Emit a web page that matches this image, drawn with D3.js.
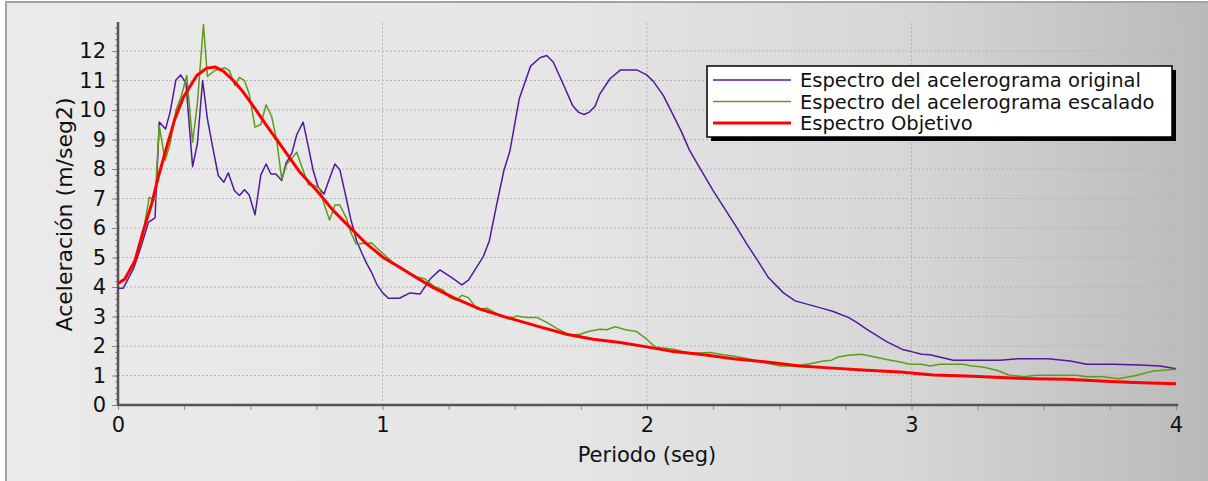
<!DOCTYPE html>
<html>
<head>
<meta charset="utf-8">
<script src="https://cdn.jsdelivr.net/npm/d3@7"></script>
<style>
  body { margin: 0; background: #fff; }
  svg { display: block; font-family: "DejaVu Sans", Verdana, sans-serif; }
</style>
</head>
<body>
<svg id="chart" width="1208" height="481"></svg>
<script>
// periodo (seg), aceleracion (m/seg2)
var original = [
  [0,3.96],[0.02,3.96],[0.06,4.65],[0.09,5.45],[0.115,6.19],[0.14,6.34],[0.156,9.59],[0.18,9.36],
  [0.197,9.93],[0.219,11.02],[0.237,11.19],[0.257,10.91],[0.282,8.08],[0.30,8.85],[0.32,11.0],
  [0.338,9.7],[0.358,8.74],[0.379,7.78],[0.40,7.55],[0.417,7.87],[0.44,7.27],[0.459,7.10],
  [0.478,7.30],[0.496,7.12],[0.518,6.45],[0.54,7.80],[0.56,8.17],[0.578,7.83],[0.597,7.83],
  [0.619,7.61],[0.635,8.19],[0.657,8.53],[0.676,9.17],[0.70,9.59],[0.72,8.74],[0.738,7.95],
  [0.757,7.38],[0.779,7.15],[0.799,7.66],[0.82,8.17],[0.839,7.97],[0.858,7.21],[0.88,6.30],
  [0.902,5.57],[0.921,5.17],[0.94,4.80],[0.959,4.49],[0.978,4.10],[1.0,3.81],[1.022,3.62],
  [1.064,3.62],[1.104,3.80],[1.142,3.76],[1.18,4.27],[1.217,4.58],[1.262,4.32],[1.30,4.07],
  [1.325,4.23],[1.381,5.03],[1.404,5.57],[1.432,6.81],[1.459,7.95],[1.482,8.62],[1.517,10.38],
  [1.56,11.49],[1.595,11.77],[1.621,11.85],[1.646,11.62],[1.677,11.0],[1.719,10.15],[1.74,9.93],
  [1.762,9.85],[1.782,9.93],[1.803,10.12],[1.822,10.55],[1.86,11.06],[1.90,11.36],[1.961,11.36],
  [1.999,11.19],[2.024,10.97],[2.062,10.49],[2.10,9.81],[2.131,9.25],[2.16,8.65],[2.194,8.12],
  [2.25,7.27],[2.339,6.02],[2.377,5.46],[2.421,4.86],[2.459,4.32],[2.515,3.81],
  [2.56,3.53],[2.629,3.36],[2.673,3.25],[2.704,3.17],[2.761,2.97],[2.793,2.80],[2.83,2.57],
  [2.906,2.15],[2.969,1.87],[3.0,1.81],[3.038,1.72],[3.07,1.70],[3.158,1.52],[3.335,1.52],
  [3.404,1.57],[3.517,1.57],[3.60,1.49],[3.662,1.38],[3.763,1.38],[3.864,1.36],[3.94,1.32],[4.0,1.23]
];

var escalado = [
  [0,4.15],[0.02,4.2],[0.058,4.72],[0.09,5.57],[0.118,7.04],[0.14,6.93],[0.156,9.47],[0.178,8.29],
  [0.197,8.85],[0.219,9.98],[0.24,10.49],[0.26,11.17],[0.282,8.91],[0.30,10.21],[0.323,12.9],
  [0.338,11.14],[0.366,11.34],[0.404,11.43],[0.421,11.34],[0.442,10.83],[0.459,11.11],[0.478,11.0],
  [0.496,10.55],[0.518,9.42],[0.54,9.51],[0.56,10.18],[0.581,9.78],[0.60,8.96],[0.619,7.66],
  [0.638,8.17],[0.657,8.36],[0.676,8.57],[0.698,8.00],[0.72,7.47],[0.745,7.44],[0.764,7.32],
  [0.779,6.81],[0.80,6.27],[0.82,6.78],[0.839,6.78],[0.865,6.30],[0.88,5.85],[0.90,5.46],
  [0.934,5.48],[0.959,5.49],[0.99,5.23],[1.04,4.83],[1.09,4.55],[1.129,4.35],[1.161,4.27],
  [1.192,4.04],[1.23,3.89],[1.255,3.64],[1.28,3.55],[1.30,3.72],[1.325,3.64],[1.358,3.25],
  [1.394,3.28],[1.425,3.13],[1.457,2.97],[1.495,2.97],[1.507,3.02],[1.545,2.97],[1.583,2.97],
  [1.621,2.80],[1.659,2.60],[1.709,2.37],[1.747,2.40],[1.778,2.49],[1.822,2.57],[1.848,2.55],
  [1.879,2.65],[1.923,2.54],[1.961,2.49],[1.999,2.23],[2.03,1.97],[2.10,1.89],[2.163,1.75],
  [2.238,1.78],[2.289,1.70],[2.326,1.66],[2.39,1.55],[2.503,1.32],[2.56,1.32],[2.616,1.40],
  [2.667,1.49],[2.698,1.52],[2.723,1.63],[2.761,1.69],[2.812,1.72],[2.862,1.63],[2.906,1.54],
  [2.957,1.46],[2.994,1.38],[3.038,1.38],[3.07,1.32],[3.108,1.38],[3.196,1.38],[3.227,1.32],
  [3.27,1.29],[3.322,1.18],[3.372,1.01],[3.423,0.96],[3.473,1.01],[3.624,1.01],[3.662,0.96],
  [3.725,0.96],[3.782,0.89],[3.84,0.98],[3.915,1.15],[4.0,1.21]
];

var objetivo = [
  [0,4.12],[0.026,4.27],[0.064,4.89],[0.096,5.91],[0.127,6.81],[0.152,7.72],[0.184,8.74],
  [0.215,9.70],[0.247,10.43],[0.298,11.17],[0.335,11.42],[0.367,11.46],[0.398,11.32],[0.436,11.0],
  [0.474,10.6],[0.512,10.12],[0.562,9.47],[0.625,8.68],[0.688,7.89],[0.751,7.27],[0.814,6.59],
  [0.877,6.02],[0.94,5.46],[1.003,5.0],[1.066,4.66],[1.116,4.38],[1.192,3.98],[1.268,3.64],
  [1.369,3.25],[1.469,2.97],[1.595,2.65],[1.696,2.40],[1.797,2.23],[1.898,2.12],[1.999,1.97],
  [2.10,1.81],[2.20,1.72],[2.326,1.57],[2.452,1.46],[2.578,1.32],[2.704,1.25],[2.83,1.18],
  [2.957,1.12],[3.082,1.02],[3.209,0.98],[3.335,0.93],[3.46,0.89],[3.587,0.87],[3.713,0.81],
  [3.84,0.76],[4.0,0.72]
];

var seriesNames = ["Espectro del acelerograma original", "Espectro del acelerograma escalado", "Espectro Objetivo"];
var seriesColors = ["#5317a0", "#5f9c16", "#ff0000"];
var seriesWidths = [1.5, 1.5, 3];
var xTicks = [0, 1, 2, 3, 4];
var yTicks = [0, 1, 2, 3, 4, 5, 6, 7, 8, 9, 10, 11, 12];

var svg = d3.select("#chart");
var W = +svg.attr("width"), H = +svg.attr("height");
var margin = {top: 23, right: 32, bottom: 76, left: 118};
var width = W - margin.left - margin.right;
var height = H - margin.top - margin.bottom;

// background panel
var defs = svg.append("defs");
var grad = defs.append("linearGradient").attr("id", "bg").attr("x1", 0).attr("x2", 1).attr("y1", 0).attr("y2", 0);
grad.append("stop").attr("offset", "0%").attr("stop-color", "#eaeaea");
grad.append("stop").attr("offset", "45%").attr("stop-color", "#e6e6e6");
grad.append("stop").attr("offset", "75%").attr("stop-color", "#d6d6d6");
grad.append("stop").attr("offset", "100%").attr("stop-color", "#b9b9b9");
svg.append("rect").attr("x", 6).attr("y", 2).attr("width", W).attr("height", H)
  .attr("fill", "url(#bg)").attr("stroke", "#a3a3a3").attr("stroke-width", 2);

var x = d3.scaleLinear().domain([0, 4]).range([0, width]);
var y = d3.scaleLinear().domain([0, 12.95]).range([height, 0]);

var g = svg.append("g").attr("transform", "translate(" + margin.left + "," + margin.top + ")");

// grid
g.append("g").selectAll("line").data(yTicks.slice(1)).enter().append("line")
  .attr("x1", 0).attr("x2", width).attr("y1", function(d){ return y(d); }).attr("y2", function(d){ return y(d); })
  .attr("stroke", "#b4b4b4").attr("stroke-dasharray", "2,2");
g.append("g").selectAll("line").data(xTicks.slice(1)).enter().append("line")
  .attr("y1", 0).attr("y2", height).attr("x1", function(d){ return x(d); }).attr("x2", function(d){ return x(d); })
  .attr("stroke", "#b4b4b4").attr("stroke-dasharray", "2,2");

// axes
var xMinor = d3.range(0, 4.001, 0.25);
var yMinor = d3.range(0, 12.95, 0.2);
var xAxisG = g.append("g").attr("transform", "translate(0," + height + ")");
xAxisG.call(d3.axisBottom(x).tickValues(xMinor).tickSize(5).tickFormat(""));
xAxisG.call(function(a){ a.select(".domain").remove(); });
xAxisG.selectAll("line").attr("stroke", "#888");
var xLab = g.append("g").attr("transform", "translate(0," + height + ")")
  .call(d3.axisBottom(x).tickValues(xTicks).tickSize(0).tickPadding(12).tickFormat(d3.format("d")));
xLab.select(".domain").remove();
xLab.selectAll("text").attr("font-size", 21).attr("fill", "#111").attr("font-family", "DejaVu Sans");

var yAxisG = g.append("g");
yAxisG.call(d3.axisLeft(y).tickValues(yMinor).tickSize(3).tickFormat(""));
yAxisG.select(".domain").remove();
yAxisG.selectAll("line").attr("stroke", "#888");
var yLab = g.append("g")
  .call(d3.axisLeft(y).tickValues(yTicks).tickSize(6).tickPadding(6).tickFormat(d3.format("d")));
yLab.select(".domain").remove();
yLab.selectAll("line").attr("stroke", "#888");
yLab.selectAll("text").attr("font-size", 21).attr("fill", "#111").attr("font-family", "DejaVu Sans");

g.append("line").attr("x1", 0).attr("x2", width + 2).attr("y1", height).attr("y2", height)
  .attr("stroke", "#555").attr("stroke-width", 2.5);
g.append("line").attr("x1", 0).attr("x2", 0).attr("y1", -1).attr("y2", height + 1)
  .attr("stroke", "#555").attr("stroke-width", 2.5);

// titles
svg.append("text").attr("x", margin.left + x(2)).attr("y", 462).attr("text-anchor", "middle")
  .attr("font-size", 21).attr("fill", "#111").text("Periodo (seg)");
svg.append("text").attr("transform", "translate(72,214.5) rotate(-90)")
  .attr("text-anchor", "middle").attr("font-size", 22).attr("fill", "#111").text("Aceleración (m/seg2)");

// lines
var line = d3.line().x(function(d){ return x(d[0]); }).y(function(d){ return y(d[1]); });
var allSeries = [original, escalado, objetivo];
g.append("g").selectAll("path").data(allSeries).enter().append("path")
  .attr("d", line).attr("fill", "none")
  .attr("stroke", function(d, i){ return seriesColors[i]; })
  .attr("stroke-width", function(d, i){ return seriesWidths[i]; })
  .attr("stroke-linejoin", "round");

// legend
var lg = svg.append("g").attr("transform", "translate(707,66)");
lg.append("rect").attr("x", 4).attr("y", 4).attr("width", 465).attr("height", 71).attr("fill", "#000");
lg.append("rect").attr("x", 0).attr("y", 0).attr("width", 465).attr("height", 71)
  .attr("fill", "#fff").attr("stroke", "#000").attr("stroke-width", 1.5);
var rows = lg.selectAll("g.row").data(seriesNames).enter().append("g")
  .attr("transform", function(d, i){ return "translate(0," + (14 + i * 21.5) + ")"; });
rows.append("line").attr("x1", 6).attr("x2", 84).attr("y1", 0).attr("y2", 0)
  .attr("stroke", function(d, i){ return seriesColors[i]; })
  .attr("stroke-width", function(d, i){ return i == 2 ? 3 : 1.5; });
rows.append("text").attr("x", 93).attr("y", 7).attr("font-size", 19.5).attr("fill", "#111").text(function(d){ return d; });
</script>
</body>
</html>
